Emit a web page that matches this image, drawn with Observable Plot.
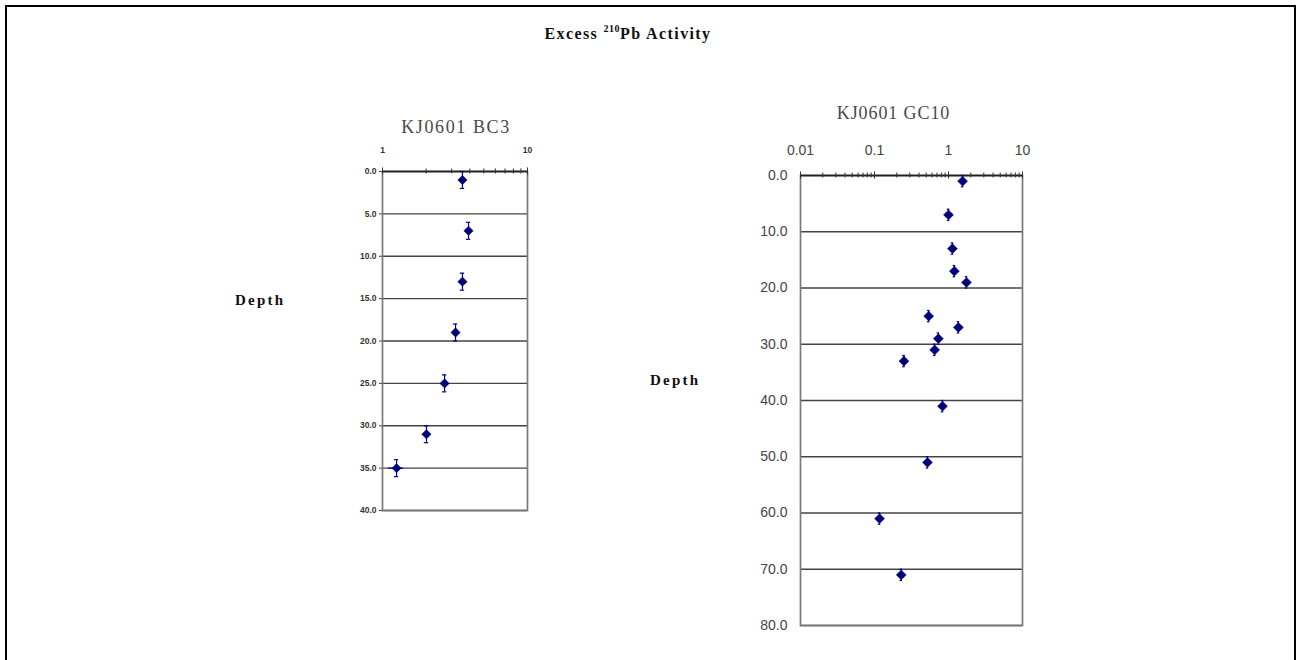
<!DOCTYPE html>
<html>
<head>
<meta charset="utf-8">
<script src="https://cdn.jsdelivr.net/npm/d3@7"></script>
<script src="https://cdn.jsdelivr.net/npm/@observablehq/plot@0.6"></script>
<style>
  html, body { margin: 0; padding: 0; background: #fff; }
  #page { position: relative; width: 1298px; height: 660px; overflow: hidden; background: #fff; }
  #border { position: absolute; left: 5px; top: 5px; width: 1287px; height: 700px;
            border-left: 2.5px solid #000; border-top: 2.5px solid #000; border-right: 2.5px solid #000; }
  #title { position: absolute; left: 478px; width: 300px; top: 23px; text-align: center;
           font: bold 16px "Liberation Serif", serif; color: #111; letter-spacing: 1.4px; }
  #title sup { font-size: 10px; vertical-align: 7px; letter-spacing: 0.5px; }
  .depth { position: absolute; font: bold 15px "Liberation Serif", serif; color: #111; letter-spacing: 2.2px; }
  .chart { position: absolute; }
</style>
</head>
<body>
<div id="page">
  <div id="border"></div>
  <div id="title">Excess <sup>210</sup>Pb Activity</div>
  <div class="depth" style="left:235px; top:292px;">Depth</div>
  <div class="depth" style="left:650px; top:372px;">Depth</div>
  <div id="left" class="chart" style="left:330px; top:100px;"></div>
  <div id="right" class="chart" style="left:740px; top:100px;"></div>
</div>
<script>
// ---- Data: KJ0601 BC3 ----
const bcTitle = "KJ0601 BC3";
const bcDepth = [1, 7, 13, 19, 25, 31, 35];
const bcActivity = [3.56, 3.92, 3.56, 3.19, 2.68, 2.01, 1.25];
const bcActError = [0.18, 0.2, 0.18, 0.16, 0.13, 0.12, 0.15];
const bcDepthError = [1, 1, 1, 1, 1, 1, 1];
const bcXTicks = [1, 10];
const bcXMinor = [2, 3, 4, 5, 6, 7, 8, 9];
const bcYTicks = [0, 5, 10, 15, 20, 25, 30, 35, 40];

// ---- Data: KJ0601 GC10 ----
const gcTitle = "KJ0601 GC10";
const gcDepth = [1, 7, 13, 17, 19, 25, 27, 29, 31, 33, 41, 51, 61, 71];
const gcActivity = [1.55, 1.0, 1.13, 1.2, 1.75, 0.54, 1.36, 0.73, 0.65, 0.25, 0.83, 0.52, 0.117, 0.23];
const gcActError = [0.08, 0.06, 0.06, 0.07, 0.12, 0.04, 0.1, 0.05, 0.04, 0.02, 0.05, 0.04, 0.012, 0.02];
const gcDepthError = [1, 1, 1, 1, 1, 1, 1, 1, 1, 1, 1, 1, 1, 1];
const gcXTicks = [0.01, 0.1, 1, 10];
const gcXMinor = [2,3,4,5,6,7,8,9].flatMap(m => [m * 0.01, m * 0.1, m * 1]);
const gcYTicks = [0, 10, 20, 30, 40, 50, 60, 70, 80];

const navy = "#00007a";

function rows(depth, act, aerr, derr) {
  return depth.map((d, i) => ({depth: d, act: act[i], aerr: aerr[i], derr: derr[i]}));
}

function makeChart(cfg) {
  const data = rows(cfg.depth, cfg.act, cfg.aerr, cfg.derr);
  const svg = Plot.plot({
    width: cfg.width, height: cfg.height,
    marginLeft: cfg.ml, marginRight: cfg.mr, marginTop: cfg.mt, marginBottom: cfg.mb,
    style: {background: "transparent", overflow: "visible"},
    x: {type: "log", domain: cfg.xDomain},
    y: {domain: cfg.yDomain, reverse: true},
    marks: [
      Plot.ruleY(cfg.yTicks, {stroke: "#444", strokeWidth: 1.4}),
      Plot.frame({stroke: "#7a7a7a", strokeWidth: 1.7}),
      Plot.ruleY([cfg.yDomain[0]], {stroke: "#222", strokeWidth: 1.7}),
      Plot.ruleX(cfg.xMinor, {x: d => d, y1: -cfg.tickLen, y2: cfg.tickLen, stroke: "#333", strokeWidth: 1}),
      Plot.ruleX(cfg.xTicks, {x: d => d, y1: -cfg.tickLen * 1.4, y2: cfg.tickLen * 1.4, stroke: "#333", strokeWidth: 1}),
      Plot.axisX({anchor: "top", ticks: cfg.xTicks, tickFormat: d => String(d), tickSize: 0,
                  tickPadding: cfg.xPad, fontSize: cfg.fs, fill: cfg.tickColor, label: null,
                  fontWeight: cfg.fw, fontFamily: "Liberation Sans, Arial, sans-serif"}),
      Plot.axisY({ticks: cfg.yTicks, tickFormat: d => d.toFixed(1), tickSize: cfg.yTickSize,
                  tickPadding: cfg.yPad, fontSize: cfg.fs, fill: cfg.tickColor, label: null,
                  fontWeight: cfg.fw, stroke: "#444", fontFamily: "Liberation Sans, Arial, sans-serif"}),
      // depth error bars (vertical) with caps
      Plot.ruleX(data, {x: "act", y1: d => d.depth - d.derr, y2: d => d.depth + d.derr, stroke: navy, strokeWidth: 1.2}),
      Plot.ruleY(data, {y: d => d.depth - d.derr, x1: d => d.act / cfg.cap, x2: d => d.act * cfg.cap, stroke: navy, strokeWidth: 1.2}),
      Plot.ruleY(data, {y: d => d.depth + d.derr, x1: d => d.act / cfg.cap, x2: d => d.act * cfg.cap, stroke: navy, strokeWidth: 1.2}),
      // activity error bars (horizontal)
      Plot.ruleY(data, {y: "depth", x1: d => d.act - d.aerr, x2: d => d.act + d.aerr, stroke: navy, strokeWidth: 1.2}),
      Plot.dot(data, {x: "act", y: "depth", symbol: "diamond2", r: cfg.r, fill: navy, stroke: navy, strokeWidth: 0.5}),
      Plot.text([cfg.title], {text: d => d, frameAnchor: "top", dy: cfg.titleDy, dx: cfg.titleDx,
                 fontSize: cfg.titleFs, fill: "#4a4a4a", fontFamily: "Liberation Serif, serif", lineAnchor: "middle"})
    ]
  });
  d3.select(svg).selectAll("g[aria-label='text'] text").attr("letter-spacing", cfg.titleLs);
  return svg;
}

document.getElementById("left").append(makeChart({
  title: bcTitle, depth: bcDepth, act: bcActivity, aerr: bcActError, derr: bcDepthError,
  width: 220, height: 430, ml: 52, mr: 23, mt: 71, mb: 20,
  xDomain: [1, 10], yDomain: [0, 40], xTicks: bcXTicks, xMinor: bcXMinor, yTicks: bcYTicks,
  tickLen: 0.3, xPad: 19, yPad: 3, yTickSize: 3, fs: 8.5, fw: "bold", tickColor: "#333",
  cap: 1.035, r: 4.2, titleDy: -44, titleDx: 1, titleFs: 18, titleLs: "1.6px"
}));

document.getElementById("right").append(makeChart({
  title: gcTitle, depth: gcDepth, act: gcActivity, aerr: gcActError, derr: gcDepthError,
  width: 310, height: 545, ml: 60, mr: 28, mt: 75, mb: 20,
  xDomain: [0.01, 10], yDomain: [0, 80], xTicks: gcXTicks, xMinor: gcXMinor, yTicks: gcYTicks,
  tickLen: 0.45, xPad: 21, yPad: 13, yTickSize: 0, fs: 14, fw: "normal", tickColor: "#444",
  cap: 1.04, r: 4.5, titleDy: -62, titleDx: -18, titleFs: 18, titleLs: "0.9px"
}));
</script>
</body>
</html>
